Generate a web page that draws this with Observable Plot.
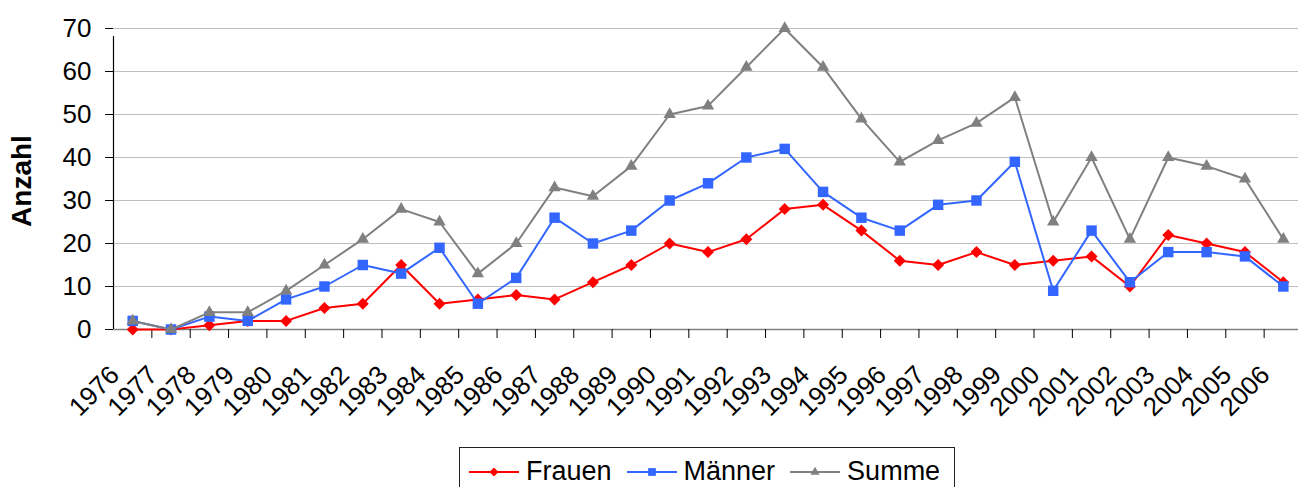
<!DOCTYPE html>
<html><head><meta charset="utf-8">
<script src="https://cdn.jsdelivr.net/npm/d3@7"></script>
<script src="https://cdn.jsdelivr.net/npm/@observablehq/plot@0.6"></script>
<style>
body{margin:0;background:#fff;font-family:"Liberation Sans",Arial,sans-serif;}
#wrap{position:relative;width:1298px;height:487px;overflow:hidden;}
#legend{position:absolute;left:459px;top:447px;width:496px;height:50px;border:1px solid #222;box-sizing:border-box;
  display:flex;align-items:flex-start;padding:8px 0 0 9px;font-size:27px;color:#000;background:#fff;}
.item{display:flex;align-items:center;margin-right:15px;}
.item:last-child{margin-right:0;}
.item svg{margin-right:7px;}
</style></head><body><div id="wrap"><div id="chart"></div><div id="legend"></div></div>
<script>
const years = [1976,1977,1978,1979,1980,1981,1982,1983,1984,1985,1986,1987,1988,1989,1990,1991,1992,1993,1994,1995,1996,1997,1998,1999,2000,2001,2002,2003,2004,2005,2006];
const frauen  = [0,0,1,2,2,5,6,15,6,7,8,7,11,15,20,18,21,28,29,23,16,15,18,15,16,17,10,22,20,18,11];
const maenner = [2,0,3,2,7,10,15,13,19,6,12,26,20,23,30,34,40,42,32,26,23,29,30,39,9,23,11,18,18,17,10];
const summe   = [2,0,4,4,9,15,21,28,25,13,20,33,31,38,50,52,61,70,61,49,39,44,48,54,25,40,21,40,38,35,21];
const seriesNames = ["Frauen","Männer","Summe"];
const seriesValues = [frauen, maenner, summe];
const seriesColors = ["#ff0000","#3366ff","#808080"];
const seriesSymbols = ["diamond2","square","triangle"];
const seriesR = [5.4, 5.9, 4.6];
const yTicks = [0,10,20,30,40,50,60,70];
const yLabel = "Anzahl";

const rows = [];
seriesNames.forEach((s, i) => years.forEach((yr, j) => rows.push({series: s, year: yr, value: seriesValues[i][j]})));
const bounds = years.slice(1).map(y => y - 0.5);
const font = '"Liberation Sans", Arial, sans-serif';

const marks = [
  Plot.gridY(yTicks, {stroke: "#c0c0c0", strokeOpacity: 1, strokeWidth: 1}),
  Plot.axisY(yTicks, {tickSize: 8, tickPadding: 14, label: null, fontSize: 26, stroke: "#000"}),
  Plot.ruleX([years[0] - 0.5], {y1: yTicks[0], y2: yTicks[yTicks.length - 1], stroke: "#000", strokeWidth: 1.2, insetBottom: -8}),
  Plot.ruleY([0], {stroke: "#808080", strokeWidth: 1.5}),
  Plot.axisX(bounds, {tickSize: 9, tickFormat: () => "", stroke: "#000", label: null}),
  Plot.text(years, {x: d => d, y: 0, text: d => String(d), rotate: -45, textAnchor: "end", lineAnchor: "bottom", dx: -12, dy: 47, fontSize: 26, fill: "#000"}),
  Plot.text([yLabel], {frameAnchor: "left", text: d => d, rotate: -90, textAnchor: "middle", lineAnchor: "middle", dx: -91, dy: 2, fontSize: 28, fontWeight: "bold", fill: "#000"})
];
seriesNames.forEach((s, i) => {
  const data = rows.filter(r => r.series === s);
  marks.push(Plot.line(data, {x: "year", y: "value", stroke: seriesColors[i], strokeWidth: 2}));
  marks.push(Plot.dot(data, {x: "year", y: "value", symbol: seriesSymbols[i], fill: seriesColors[i], stroke: "none", r: seriesR[i]}));
});

const chart = Plot.plot({
  width: 1298, height: 440,
  marginLeft: 113, marginTop: 28, marginBottom: 111, marginRight: -4,
  style: {fontFamily: font, fontSize: "26px", color: "#000", background: "#fff", overflow: "hidden"},
  x: {type: "linear", domain: [years[0] - 0.5, years[years.length - 1] + 0.5], axis: null},
  y: {type: "linear", domain: [yTicks[0], yTicks[yTicks.length - 1]], axis: null},
  marks
});
document.getElementById("chart").appendChild(chart);

const leg = document.getElementById("legend");
seriesNames.forEach((s, i) => {
  const item = document.createElement("div");
  item.className = "item";
  const sym = d3.symbol().type(i === 0 ? d3.symbolDiamond2 : i === 1 ? d3.symbolSquare : d3.symbolTriangle).size(Math.PI * seriesR[i] * seriesR[i] * 0.55)();
  item.innerHTML = `<svg width="50" height="20"><line x1="0" x2="50" y1="10" y2="10" stroke="${seriesColors[i]}" stroke-width="2"/><path d="${sym}" transform="translate(25,10)" fill="${seriesColors[i]}"/></svg><span>${s}</span>`;
  leg.appendChild(item);
});
</script></body></html>
